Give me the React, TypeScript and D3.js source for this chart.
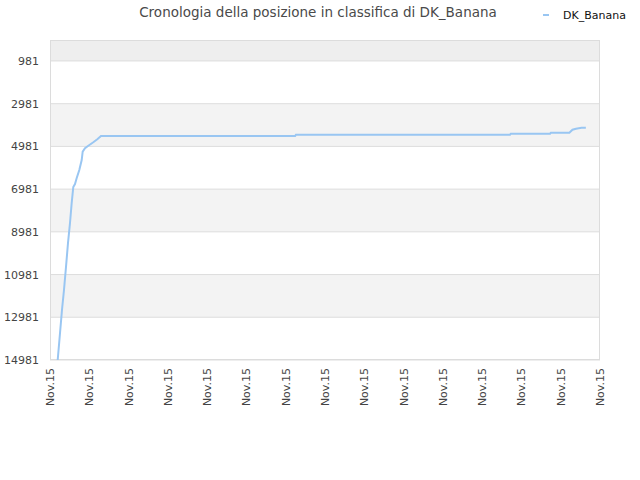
import React from "react";
import * as d3 from "d3";

// tempo (unità arbitrarie lungo l'asse) e posizione in classifica
const times: number[] = [
  1.96, 2.55, 3.05, 3.56, 4.07, 4.58, 5.09, 5.52, 5.93, 6.36, 6.8, 7.46, 8.07, 8.32,
  8.91, 9.75, 11.02, 12.04, 12.98, 62.4, 62.6, 117.1, 117.3, 127.3, 127.5, 132.2,
  133.0, 133.9, 135.3, 136.4,
];
const ranks: number[] = [
  14981, 13717, 12640, 11704, 10627, 9504, 8567, 7631, 6882, 6742, 6461, 6086, 5618,
  5229, 5070, 4948, 4789, 4649, 4494, 4494, 4433, 4433, 4387, 4387, 4340, 4340, 4199,
  4153, 4106, 4106,
];
const yTicks: number[] = [981, 2981, 4981, 6981, 8981, 10981, 12981, 14981];
const xTicks: number[] = d3.range(0, 141, 10);
const xLabel = "Nov.15";
const seriesName = "DK_Banana";
const title = "Cronologia della posizione in classifica di DK_Banana";

const W = 640;
const H = 480;
const margin = { top: 40, right: 40, bottom: 120, left: 50 };

export default function App() {
  const x = d3.scaleLinear().domain([0, 140]).range([margin.left, W - margin.right]);
  const y = d3.scaleLinear().domain([0, 14981]).range([margin.top, H - margin.bottom]);

  const pts = times.map((t, i) => [t, ranks[i]] as [number, number]);
  const line = d3
    .line<[number, number]>()
    .x((d) => x(d[0]))
    .y((d) => y(d[1]));

  // bande alternate tra le righe della griglia
  const edges = [0, ...yTicks];
  const bands = edges.slice(0, -1).map((v, i) => ({ from: v, to: edges[i + 1], i }));

  const font = "'DejaVu Sans', sans-serif";

  return (
    <svg width={W} height={H} style={{ position: "absolute", left: 0, top: 0 }} fontFamily={font}>
      <rect width={W} height={H} fill="#fff" />
      <text x={318} y={17} textAnchor="middle" fontSize={13.5} fill="#4a4a4a">
        {title}
      </text>
      <line x1={543} x2={549} y1={15} y2={15} stroke="#99c6f2" strokeWidth={2} />
      <text x={563} y={19} fontSize={11} fill="#111">
        {seriesName}
      </text>

      {bands.map((b) => (
        <rect
          key={b.i}
          x={margin.left}
          width={W - margin.right - margin.left}
          y={y(b.from)}
          height={y(b.to) - y(b.from)}
          fill={b.i === 0 ? "#eeeeee" : b.i % 2 === 0 ? "#f3f3f3" : "#ffffff"}
        />
      ))}
      {yTicks.map((v) => (
        <g key={v}>
          <line x1={margin.left} x2={W - margin.right} y1={y(v)} y2={y(v)} stroke="#dddddd" />
          <text x={39} y={y(v) + 4} textAnchor="end" fontSize={11} fill="#444">
            {v}
          </text>
        </g>
      ))}
      <rect
        x={margin.left + 0.5}
        y={margin.top + 0.5}
        width={W - margin.right - margin.left - 1}
        height={H - margin.bottom - margin.top - 1}
        fill="none"
        stroke="#dcdcdc"
      />

      {xTicks.map((t) => (
        <text
          key={t}
          transform={`translate(${x(t) + 4},${H - margin.bottom + 8}) rotate(-90)`}
          textAnchor="end"
          fontSize={11}
          fill="#444"
        >
          {xLabel}
        </text>
      ))}

      <path d={line(pts) ?? ""} fill="none" stroke="#99c6f2" strokeWidth={2} />
    </svg>
  );
}
